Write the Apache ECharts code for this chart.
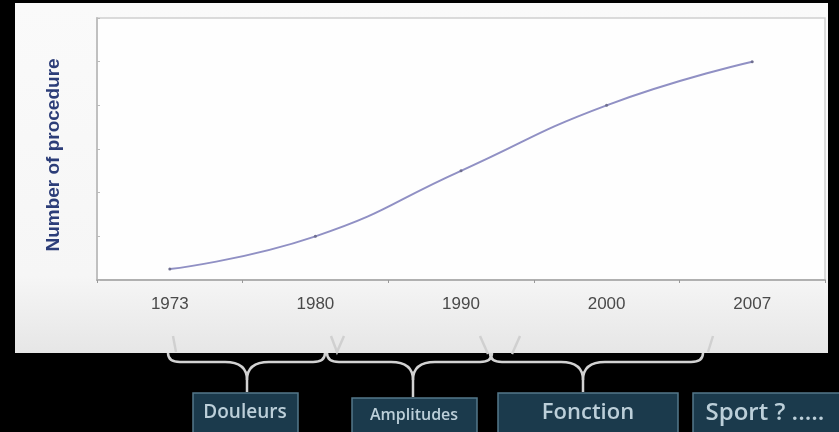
<!DOCTYPE html>
<html>
<head>
<meta charset="utf-8">
<script src="https://cdn.jsdelivr.net/npm/echarts@6/dist/echarts.min.js"></script>
<style>
html,body{margin:0;padding:0;background:#000;}
#c{width:839px;height:432px;}
</style>
</head>
<body>
<div id="c"></div>
<script>
var categories = ['1973', '1980', '1990', '2000', '2007'];
var procedures = [0.25, 1.0, 2.5, 4.0, 5.0];
var yTitle = 'Number of procedure';
var phaseLabels = ['Douleurs', 'Amplitudes', 'Fonction', 'Sport ? .....'];

var chart = echarts.init(document.getElementById('c'));

var strokeStyle = {stroke: '#d2d2d2', lineWidth: 2.5, fill: null};

function brace(x1, x2, xc, y0, y1, yTip) {
  var s = strokeStyle, z = 10;
  return [
    {type: 'bezierCurve', z: z, shape: {x1: x1, y1: y0, cpx1: x1, cpy1: y1, x2: x1 + 12, y2: y1}, style: s},
    {type: 'line', z: z, shape: {x1: x1 + 12, y1: y1, x2: xc - 22, y2: y1}, style: s},
    {type: 'bezierCurve', z: z, shape: {x1: xc - 22, y1: y1, cpx1: xc, cpy1: y1, x2: xc, y2: y1 + 18}, style: s},
    {type: 'line', z: z, shape: {x1: xc, y1: y1 + 18, x2: xc, y2: yTip}, style: s},
    {type: 'bezierCurve', z: z, shape: {x1: xc + 22, y1: y1, cpx1: xc, cpy1: y1, x2: xc, y2: y1 + 18}, style: s},
    {type: 'line', z: z, shape: {x1: xc + 22, y1: y1, x2: x2 - 12, y2: y1}, style: s},
    {type: 'bezierCurve', z: z, shape: {x1: x2 - 12, y1: y1, cpx1: x2, cpy1: y1, x2: x2, y2: y0}, style: s}
  ];
}
function stroke(points) {
  return {type: 'polyline', z: 10, shape: {points: points}, style: {stroke: '#d0d0d0', lineWidth: 2.5, fill: null}};
}

var boxStyle = {fill: '#1b3a4c', stroke: '#54788a', lineWidth: 1.5};
var boxText = {fill: '#bccfd9', fontFamily: 'Open Sans', fontWeight: 600, textAlign: 'center', textVerticalAlign: 'middle'};

var graphics = [
  {type: 'rect', z: -100, shape: {x: 15, y: 3, width: 813, height: 350},
    style: {fill: {type: 'linear', x: 0, y: 0, x2: 0, y2: 1, colorStops: [
      {offset: 0, color: '#fafafa'}, {offset: 0.78, color: '#f6f6f6'}, {offset: 1, color: '#e6e6e6'}]}}},
  stroke([[173, 336], [176, 352]]),
  stroke([[331, 336], [337, 352], [344, 336]]),
  stroke([[480, 336], [488, 354]]),
  stroke([[520, 336], [512, 354]]),
  stroke([[713, 336], [708, 352]])
];
graphics = graphics.concat(brace(168, 325, 247, 353, 362, 392));
graphics = graphics.concat(brace(327, 492, 413, 353, 362, 397));
graphics = graphics.concat(brace(490, 703, 583, 353, 362, 392));
graphics = graphics.concat([
  {type: 'rect', z: 10, shape: {x: 193, y: 393, width: 105, height: 45}, style: boxStyle},
  {type: 'rect', z: 10, shape: {x: 352, y: 398, width: 125, height: 45}, style: boxStyle},
  {type: 'rect', z: 10, shape: {x: 498, y: 393, width: 180, height: 45}, style: boxStyle},
  {type: 'rect', z: 10, shape: {x: 693, y: 393, width: 160, height: 45}, style: boxStyle},
  {type: 'text', z: 11, style: Object.assign({}, boxText, {x: 245, y: 413, text: phaseLabels[0], fontSize: 19})},
  {type: 'text', z: 11, style: Object.assign({}, boxText, {x: 414, y: 415, text: phaseLabels[1], fontSize: 16})},
  {type: 'text', z: 11, style: Object.assign({}, boxText, {x: 588, y: 413, text: phaseLabels[2], fontSize: 22})},
  {type: 'text', z: 11, style: Object.assign({}, boxText, {x: 765, y: 413, text: phaseLabels[3], fontSize: 24})}
]);

chart.setOption({
  backgroundColor: '#000',
  animation: false,
  grid: {
    left: 97, right: 14, top: 18, bottom: 152,
    show: true, backgroundColor: '#fefefe', borderColor: '#cfcfcf', borderWidth: 1.5
  },
  xAxis: {
    type: 'category',
    data: categories,
    boundaryGap: true,
    axisLine: {lineStyle: {color: '#b0b0b0', width: 2}},
    axisTick: {show: true, length: 3, lineStyle: {color: '#999'}},
    axisLabel: {color: '#4a4a4a', fontSize: 17, fontFamily: 'Liberation Sans', margin: 16},
    splitLine: {show: false}
  },
  yAxis: {
    type: 'value',
    min: 0, max: 6, interval: 1,
    name: yTitle,
    nameLocation: 'middle',
    nameGap: 34,
    nameTextStyle: {color: '#2c3d78', fontSize: 19, fontWeight: 'bold', fontFamily: 'Liberation Sans', padding: [0, 12, 0, 0]},
    axisLine: {show: true, lineStyle: {color: '#c0c0c0', width: 2}},
    axisTick: {show: true, inside: true, length: 3, lineStyle: {color: '#bbb'}},
    axisLabel: {show: false},
    splitLine: {show: false}
  },
  series: [{
    type: 'line',
    data: procedures,
    smooth: true,
    symbol: 'circle',
    symbolSize: 3,
    itemStyle: {color: '#6f6f90'},
    lineStyle: {color: '#9090c4', width: 2}
  }],
  graphic: graphics
});
</script>
</body>
</html>
